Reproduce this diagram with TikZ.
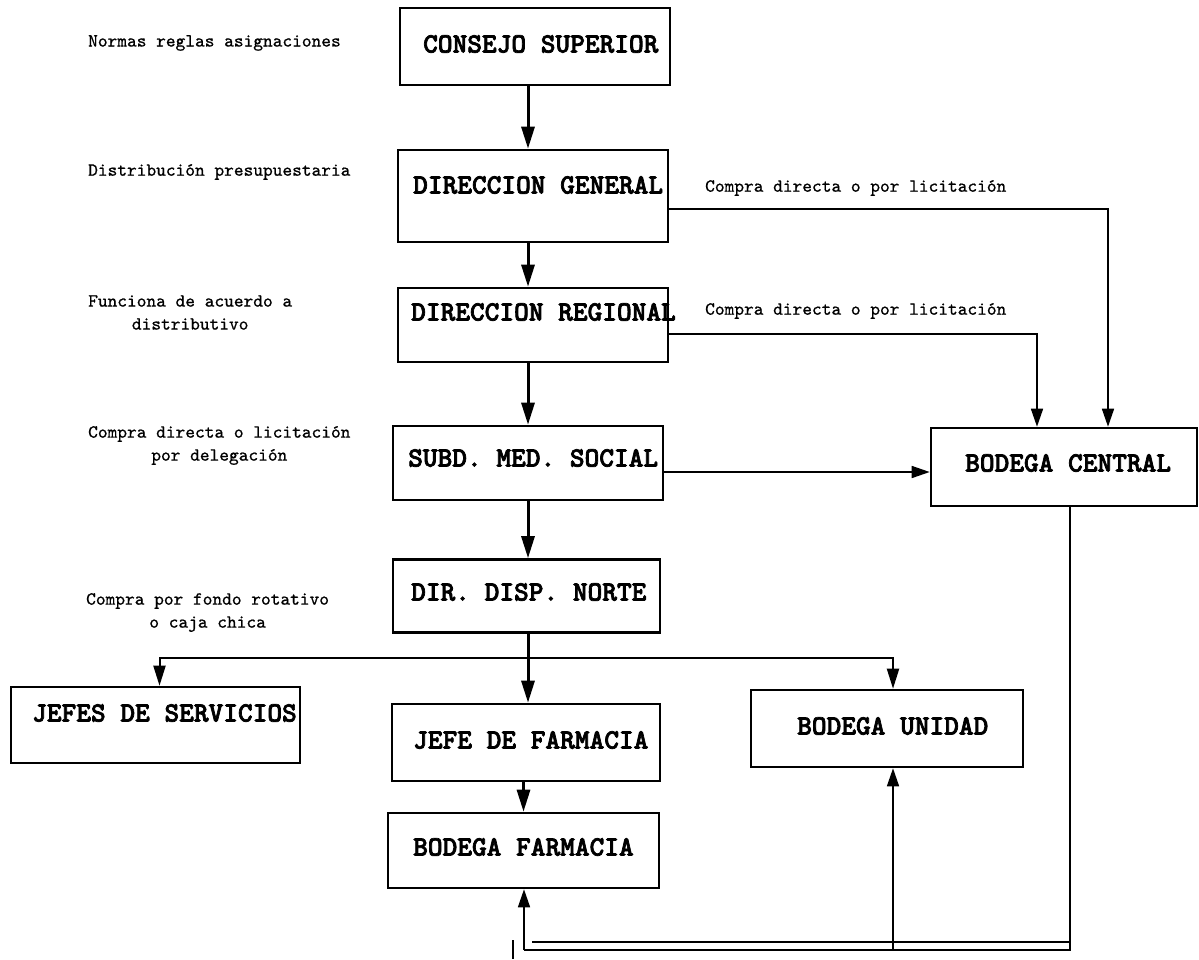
\documentclass[tikz,border=0pt]{standalone}
\usepackage{fontspec}
\usetikzlibrary{arrows.meta}
\newfontfamily\bxfont{lmmonolt10-bold.otf}[FakeBold=2.5]
\newfontfamily\lbfont{lmmono10-regular.otf}[FakeBold=0.8]
\tikzset{
 box/.style={draw, line width=2.6pt, inner sep=0pt},
 btxt/.style={anchor=west, inner sep=0pt, font=\bxfont\fontsize{28}{30}\selectfont},
 ltxt/.style={anchor=west, inner sep=0pt, align=center, font=\lbfont\fontsize{18.5}{23}\selectfont},
 thickarrow/.style={line width=3pt, -{Triangle[length=22pt,width=13pt]}},
 medarrow/.style={line width=2pt, -{Triangle[length=20pt,width=12pt]}},
 thinarrow/.style={line width=1.6pt, -{Triangle[length=18pt,width=12pt]}},
 thinline/.style={line width=1.6pt},
}
\begin{document}
\begin{tikzpicture}[x=1pt,y=-1pt]
\useasboundingbox[fill=white] (0,0) rectangle (1199,959);
\coordinate (sp) at (528,0);
% boxes
\node[box, minimum width=270pt, minimum height=77pt] (cs) at (535,46.5) {};
\node[btxt] (cst) at (423,44) {CONSEJO SUPERIOR};
\node[box, minimum width=270pt, minimum height=92pt] (dg) at (533,196) {};
\node[btxt] (dgt) at (413,185) {DIRECCION GENERAL};
\node[box, minimum width=270pt, minimum height=74pt] (dr) at (533,325) {};
\node[btxt] (drt) at (411,312) {DIRECCION REGIONAL};
\node[box, minimum width=270pt, minimum height=74pt] (sms) at (528,463) {};
\node[btxt] (smst) at (408,458) {SUBD. MED. SOCIAL};
\node[box, minimum width=266pt, minimum height=78pt] (bc) at (1064,467) {};
\node[btxt] (bct) at (965,463) {BODEGA CENTRAL};
\node[box, minimum width=267pt, minimum height=73pt] (ddn) at (526.5,596) {};
\node[btxt] (ddnt) at (411,592) {DIR. DISP. NORTE};
\node[box, minimum width=289pt, minimum height=76pt] (js) at (155.5,725) {};
\node[btxt] (jst) at (32,713) {JEFES DE SERVICIOS};
\node[box, minimum width=268pt, minimum height=77pt] (jf) at (526,742.5) {};
\node[btxt] (jft) at (413,740) {JEFE DE FARMACIA};
\node[box, minimum width=272pt, minimum height=77pt] (bu) at (887,728.5) {};
\node[btxt] (but) at (797,726) {BODEGA UNIDAD};
\node[box, minimum width=271pt, minimum height=75pt] (bf) at (523.5,850.5) {};
\node[btxt] (bft) at (413,847) {BODEGA FARMACIA};
% labels
\node[ltxt] (l1) at (88,43) {Normas reglas asignaciones};
\node[ltxt] (l2) at (88,172) {Distribución presupuestaria};
\node[ltxt] (l3) at (88,312.5) {Funciona de acuerdo a\\distributivo};
\node[ltxt] (l4) at (88,445.5) {Compra directa o licitación\\por delegación};
\node[ltxt] (l5) at (86,612.5) {Compra por fondo rotativo\\o caja chica};
\node[ltxt] (l6) at (705,188) {Compra directa o por licitación};
\node[ltxt] (l7) at (705,311) {Compra directa o por licitación};
% main spine
\draw[thickarrow] (cs.south -| sp) -- (dg.north -| sp);
\draw[thickarrow] (dg.south -| sp) -- (dr.north -| sp);
\draw[thickarrow] (dr.south -| sp) -- (sms.north -| sp);
\draw[thickarrow] (sms.south -| sp) -- (ddn.north -| sp);
\coordinate (br) at (528,658);
\draw[line width=3pt] (ddn.south -| sp) -- (br);
\draw[thickarrow] (br) -- (jf.north -| sp);
\draw[medarrow] (br) -| ([xshift=4pt]js.north);
\draw[medarrow] (br) -| ([xshift=6pt]bu.north);
\draw[thickarrow] (jf.south -| bf.north) -- (bf.north);
% to bodega central
\draw[thinarrow] ([yshift=-13pt]dg.east) -| ([xshift=44pt]bc.north);
\draw[thinarrow] ([yshift=-9pt]dr.east) -| ([xshift=-27pt]bc.north);
\draw[thinarrow] ([yshift=-9pt]sms.east) -- ([yshift=-9pt]sms.east -| bc.west);
% bottom return lines
\coordinate (c1) at (1070,950);
\coordinate (c2) at (524,950);
\coordinate (c3) at (893,950);
\draw[thinline] ([xshift=6pt]bc.south) |- (c2);
\draw[thinarrow] (c2) -- (bf.south -| c2);
\draw[thinarrow] (c3) -- (bu.south -| c3);
\coordinate (u1) at (532,942);
\draw[thinline] (u1) -- (u1 -| c1);
\coordinate (t1) at (513,940);
\coordinate (t2) at (513,959);
\draw[thinline] (t1) -- (t2);
\end{tikzpicture}
\end{document}
